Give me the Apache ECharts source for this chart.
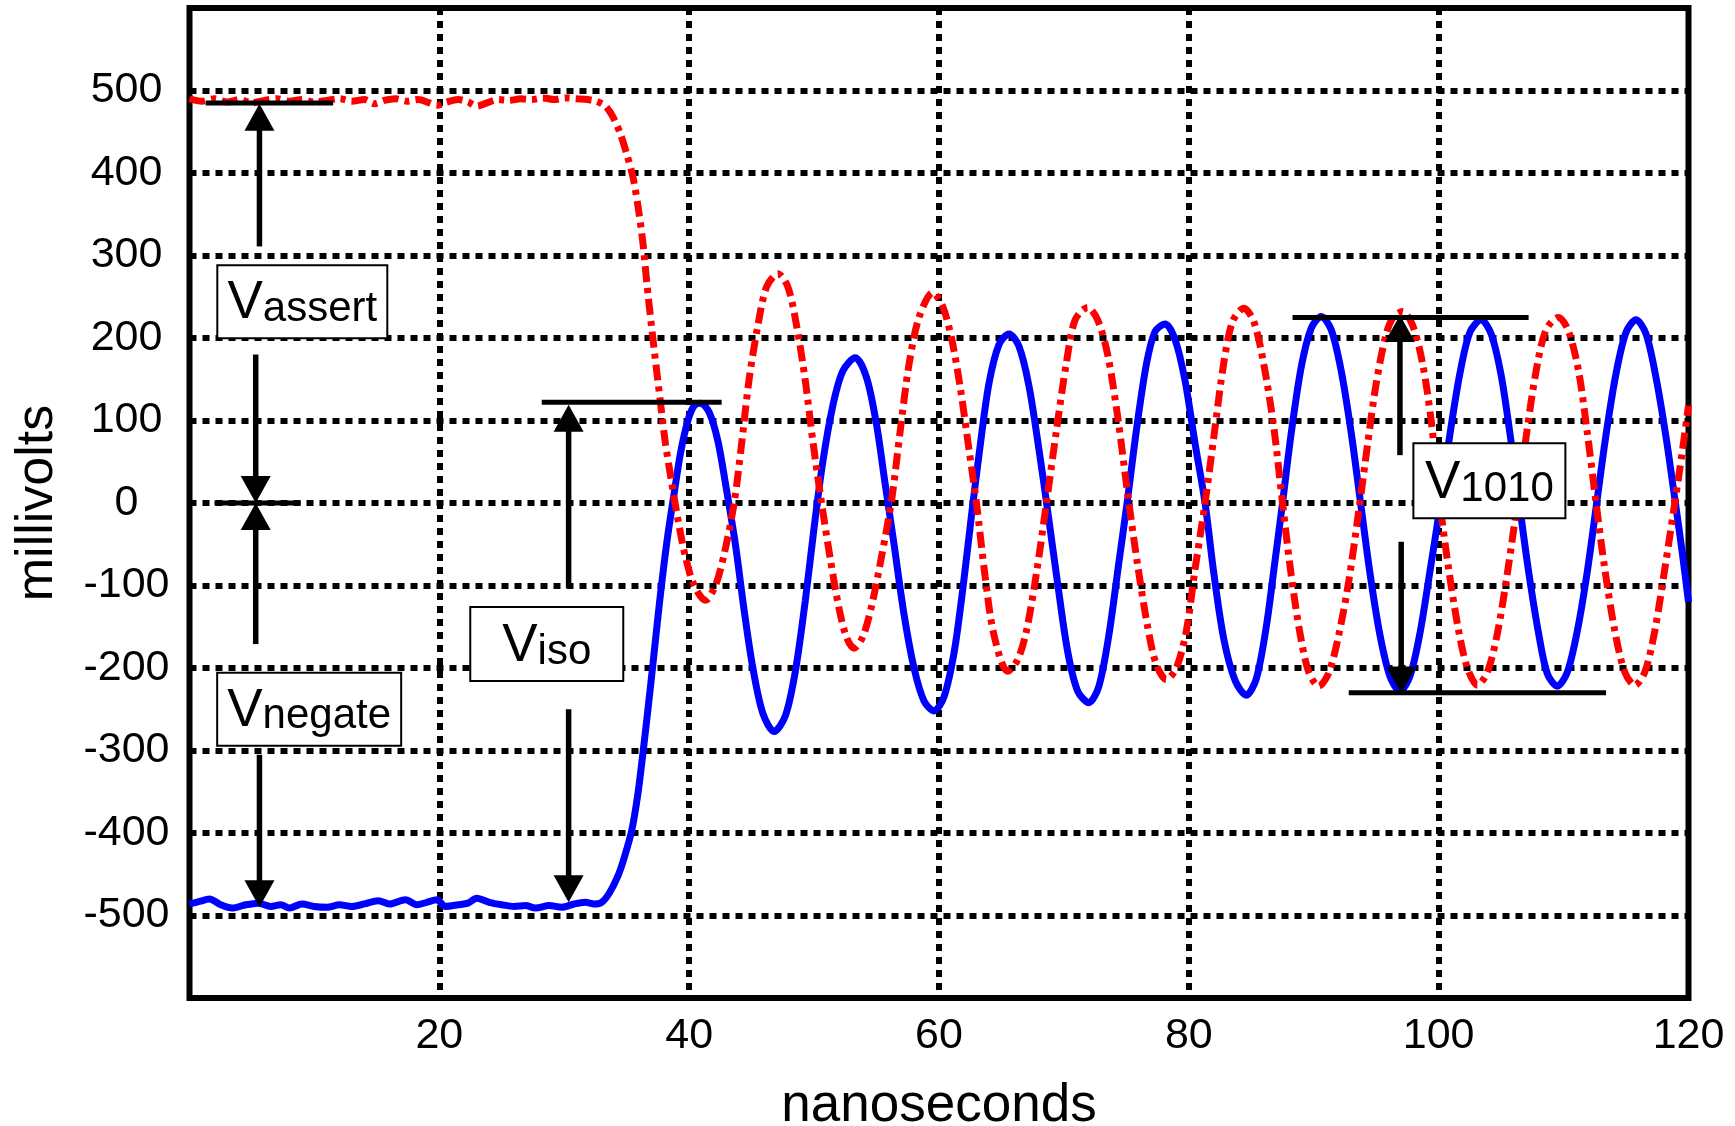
<!DOCTYPE html>
<html>
<head>
<meta charset="utf-8">
<script src="https://cdn.jsdelivr.net/npm/echarts@6/dist/echarts.min.js"></script>
<style>
html,body{margin:0;padding:0;background:#fff;}
#chart{width:1735px;height:1126px;}
</style>
</head>
<body>
<div id="chart"></div>
<script>
// ---- data ----
const xAxisName = 'nanoseconds';
const yAxisName = 'millivolts';

// red dash-dot trace (asserted line): [ns, mV]
const assertTrace = [
 [0,490],[1,487],[2,490],[3,486],[4,489],[5,485],[6,488],[7,490],[8,487],[9,489],[10,486],[11,488],[12,490],[13,487],[14,489],[14.8,484],[15.6,488],[16.5,490],[17.4,487],[18.3,489],[19.2,485],[19.8,482],[20.6,486],[21.5,489],[22.3,486],[23.0,481],[23.8,485],[24.7,489],[25.6,488],[26.5,490],[27.4,489],[28.3,491],[29.2,489],[30.1,491],[31.0,490],[31.9,489],[32.6,487],
 [33.3,481],[33.9,468],[34.5,447],[35.0,423],[35.5,395],[35.9,360],[36.3,315],[36.6,268],[37.0,212],[37.4,160],[37.7,122],[38.1,72],[38.6,25],[39.1,-20],[39.7,-65],[40.4,-100],[41.3,-118],
 [42.1,-100],[42.8,-62],[43.6,0],[44.2,72],[44.8,150],[45.5,215],[46.2,262],[47.1,278],[47.9,262],[48.6,215],[49.3,148],[49.9,75],[50.6,0],[51.3,-68],[52.0,-128],[52.6,-163],[53.2,-176],
 [53.9,-162],[54.6,-125],[55.4,-65],[56.2,3],[56.9,88],[57.6,168],[58.4,225],[59.5,255],[60.3,238],[61.0,200],[61.7,140],[62.4,65],[63.0,0],[63.7,-90],[64.4,-160],[65.5,-204],
 [66.3,-190],[67.0,-155],[67.8,-85],[68.6,0],[69.4,88],[70.2,170],[70.9,222],[71.9,237],[72.7,222],[73.5,180],[74.3,105],[75.2,0],[75.9,-75],[76.7,-150],[77.4,-196],[78.2,-214],
 [79.0,-200],[79.8,-155],[80.5,-80],[81.3,0],[82.0,80],[82.8,170],[83.5,220],[84.4,236],[85.2,220],[86.0,168],[86.8,92],[87.5,0],[88.2,-88],[88.9,-158],[89.6,-205],[90.4,-222],
 [91.2,-206],[92.0,-160],[92.8,-95],[93.6,-10],[94.3,70],[95.0,145],[95.8,205],[96.4,226],[97.1,232],[97.9,216],[98.7,170],[99.4,100],[100.1,0],[100.8,-80],[101.6,-155],[102.3,-200],[103.1,-221],
 [103.9,-205],[104.7,-158],[105.5,-85],[106.3,0],[107.0,80],[107.8,160],[108.6,210],[109.6,225],[110.4,208],[111.2,160],[111.9,85],[112.6,0],[113.3,-80],[114.1,-155],[114.9,-205],[115.7,-221],
 [116.5,-205],[117.3,-155],[118.1,-80],[118.9,0],[119.5,62],[120,118]
];

// blue solid trace (negated line): [ns, mV]
const negateTrace = [
 [0,-486],[0.8,-483],[1.6,-480],[2.5,-487],[3.4,-491],[4.5,-487],[5.5,-485],[6.5,-489],[7.3,-487],[8.0,-491],[9.0,-486],[10,-489],[11,-490],[12,-487],[13,-489],[14,-486],[15.1,-482],[16,-486],[17.3,-481],[18.2,-487],[19,-484],[19.8,-481],[20.5,-489],[21.5,-487],[22.3,-485],[23,-479],[24,-484],[25,-487],[26,-489],[26.9,-488],[27.7,-491],[28.8,-488],[29.8,-490],[30.8,-486],[31.7,-484],[32.4,-486],
 [33.0,-484],[33.6,-473],[34.3,-452],[34.8,-430],[35.4,-397],[35.9,-352],[36.3,-303],[36.7,-250],[37.1,-195],[37.5,-138],[37.9,-85],[38.3,-38],[38.8,12],[39.3,60],[39.9,100],[40.4,118],[40.9,121],
 [41.6,110],[42.3,75],[43.0,15],[43.7,-50],[44.4,-130],[45.1,-200],[45.9,-255],[46.8,-277],[47.7,-258],[48.5,-204],[49.3,-118],[50.0,-30],[50.7,50],[51.5,118],[52.3,160],[53.3,176],
 [54.2,152],[55.0,95],[55.7,22],[56.4,-50],[57.2,-135],[58.0,-200],[58.8,-240],[59.6,-252],[60.4,-235],[61.2,-182],[61.9,-105],[62.6,-15],[63.3,70],[64.0,145],[64.8,192],[65.6,205],
 [66.4,190],[67.2,142],[68.0,65],[68.75,-15],[69.5,-98],[70.3,-180],[71.1,-228],[72.0,-242],[72.8,-222],[73.6,-160],[74.4,-72],[75.1,5],[75.8,88],[76.6,168],[77.3,208],[78.1,217],
 [78.9,198],[79.7,148],[80.5,72],[81.3,0],[82.0,-85],[82.8,-165],[83.7,-215],[84.6,-233],[85.4,-213],[86.2,-150],[86.9,-70],[87.5,0],[88.2,85],[89.0,165],[89.8,212],[90.6,226],
 [91.4,210],[92.2,160],[93.0,85],[93.75,0],[94.5,-85],[95.3,-160],[96.1,-210],[96.9,-228],[97.7,-210],[98.5,-158],[99.3,-83],[100.15,0],[100.9,83],[101.7,157],[102.5,207],[103.4,222],
 [104.2,205],[105.0,155],[105.7,85],[106.45,0],[107.2,-83],[108.0,-158],[108.7,-207],[109.5,-222],[110.3,-205],[111.1,-155],[111.9,-83],[112.65,0],[113.4,83],[114.2,157],[115.0,207],[115.8,222],
 [116.6,205],[117.4,152],[118.2,80],[118.95,0],[119.5,-60],[120,-120]
];

// annotation reference bars: [x start ns, x end ns, level mV]
const refBars = [[1.3,11.5,485],[2.0,8.9,0],[28.2,42.6,122],[88.3,107.2,225],[92.8,113.4,-230]];
// annotation arrows: [x ns, tail mV, tip mV]
const arrows = [[5.6,311,484],[5.3,180,0],[5.3,-171,0],[5.6,-305,-490],[30.35,-103,119],[30.35,-250,-484],[96.9,58,228],[97.0,-47,-231]];
// annotation boxes: centre [ns, mV] and text
const boxCentres = [[9.03,244],[9.58,-250],[28.6,-171],[104.06,27]];
const boxTexts = [['V','assert'],['V','negate'],['V','iso'],['V','1010']];

// ---- styles ----
const FONT = "'Liberation Sans', Arial, Helvetica, sans-serif";
const boxSizes = [[170,73],[184,73],[153,74],[152,75]];

const chart = echarts.init(document.getElementById('chart'), null, {renderer:'canvas'});

const option = {
  animation: false,
  backgroundColor: '#fff',
  grid: {
    left: 189.5, right: 46.5, top: 8, bottom: 128,
    outerBoundsMode: 'none', containLabel: false,
    show: true, borderColor: '#000', borderWidth: 6, backgroundColor: 'transparent'
  },
  xAxis: {
    type: 'value', min: 0, max: 120, interval: 20,
    name: xAxisName, nameLocation: 'middle', nameGap: 82,
    nameTextStyle: {fontFamily: FONT, fontSize: 53, color: '#000'},
    axisLine: {show: false}, axisTick: {show: false},
    axisLabel: {fontFamily: FONT, fontSize: 43, color: '#000', margin: 17,
      formatter: v => v === 0 ? '' : String(v)},
    splitLine: {show: true, showMinLine: false, showMaxLine: false,
      lineStyle: {color: '#000', width: 6, type: [7,6]}}
  },
  yAxis: {
    type: 'value', min: -600, max: 600, interval: 100,
    name: yAxisName, nameLocation: 'middle', nameGap: 126,
    nameTextStyle: {fontFamily: FONT, fontSize: 52, color: '#000'},
    axisLine: {show: false}, axisTick: {show: false},
    axisLabel: {fontFamily: FONT, fontSize: 43, color: '#000', margin: 63, align: 'center',
      formatter: v => (v === 600 || v === -600) ? '' : String(v)},
    splitLine: {show: true, showMinLine: false, showMaxLine: false,
      lineStyle: {color: '#000', width: 6, type: [7,6]}}
  },
  series: [
    {
      type: 'line', data: negateTrace, showSymbol: false, smooth: 0.3, z: 3,
      lineStyle: {color: '#0000ff', width: 7}
    },
    {
      type: 'line', data: assertTrace, showSymbol: false, smooth: 0.3, z: 4,
      lineStyle: {color: '#ff0000', width: 7, type: [16,6,5,6]}
    },
    {
      type: 'custom', data: refBars, z: 10,
      renderItem: (params, api) => {
        const a = api.coord([api.value(0), api.value(2)]);
        const b = api.coord([api.value(1), api.value(2)]);
        return {type: 'line', shape: {x1: a[0], y1: a[1], x2: b[0], y2: b[1]},
          style: {stroke: '#000', lineWidth: 5}};
      }
    },
    {
      type: 'custom', data: arrows, z: 10,
      renderItem: (params, api) => {
        const x = api.value(0);
        const p0 = api.coord([x, api.value(1)]);
        const p1 = api.coord([x, api.value(2)]);
        const dir = p1[1] > p0[1] ? 1 : -1;
        const H = 27, W = 30;
        const base = p1[1] - dir * H;
        return {type: 'group', children: [
          {type: 'line', shape: {x1: p0[0], y1: p0[1], x2: p1[0], y2: base + dir * 2},
            style: {stroke: '#000', lineWidth: 5.5}},
          {type: 'polygon', shape: {points: [[p1[0], p1[1]], [p1[0] - W / 2, base], [p1[0] + W / 2, base]]},
            style: {fill: '#000'}}
        ]};
      }
    },
    {
      type: 'custom', data: boxCentres, z: 11,
      renderItem: (params, api) => {
        const c = api.coord([api.value(0), api.value(1)]);
        const i = params.dataIndex;
        const w = boxSizes[i][0], h = boxSizes[i][1];
        const t = boxTexts[i];
        return {type: 'group', children: [
          {type: 'rect', shape: {x: c[0] - w / 2, y: c[1] - h / 2, width: w, height: h},
            style: {fill: '#fff', stroke: '#000', lineWidth: 2}},
          {type: 'text', x: c[0], y: c[1] + h / 2 - 8,
            style: {
              text: '{v|' + t[0] + '}{s|' + t[1] + '}',
              align: 'center', verticalAlign: 'bottom', fill: '#000',
              rich: {
                v: {fontFamily: FONT, fontSize: 53, lineHeight: 53, verticalAlign: 'bottom', fill: '#000'},
                s: {fontFamily: FONT, fontSize: 42, lineHeight: 42, verticalAlign: 'bottom', fill: '#000'}
              }
            }}
        ]};
      }
    }
  ]
};
chart.setOption(option);
</script>
</body>
</html>
